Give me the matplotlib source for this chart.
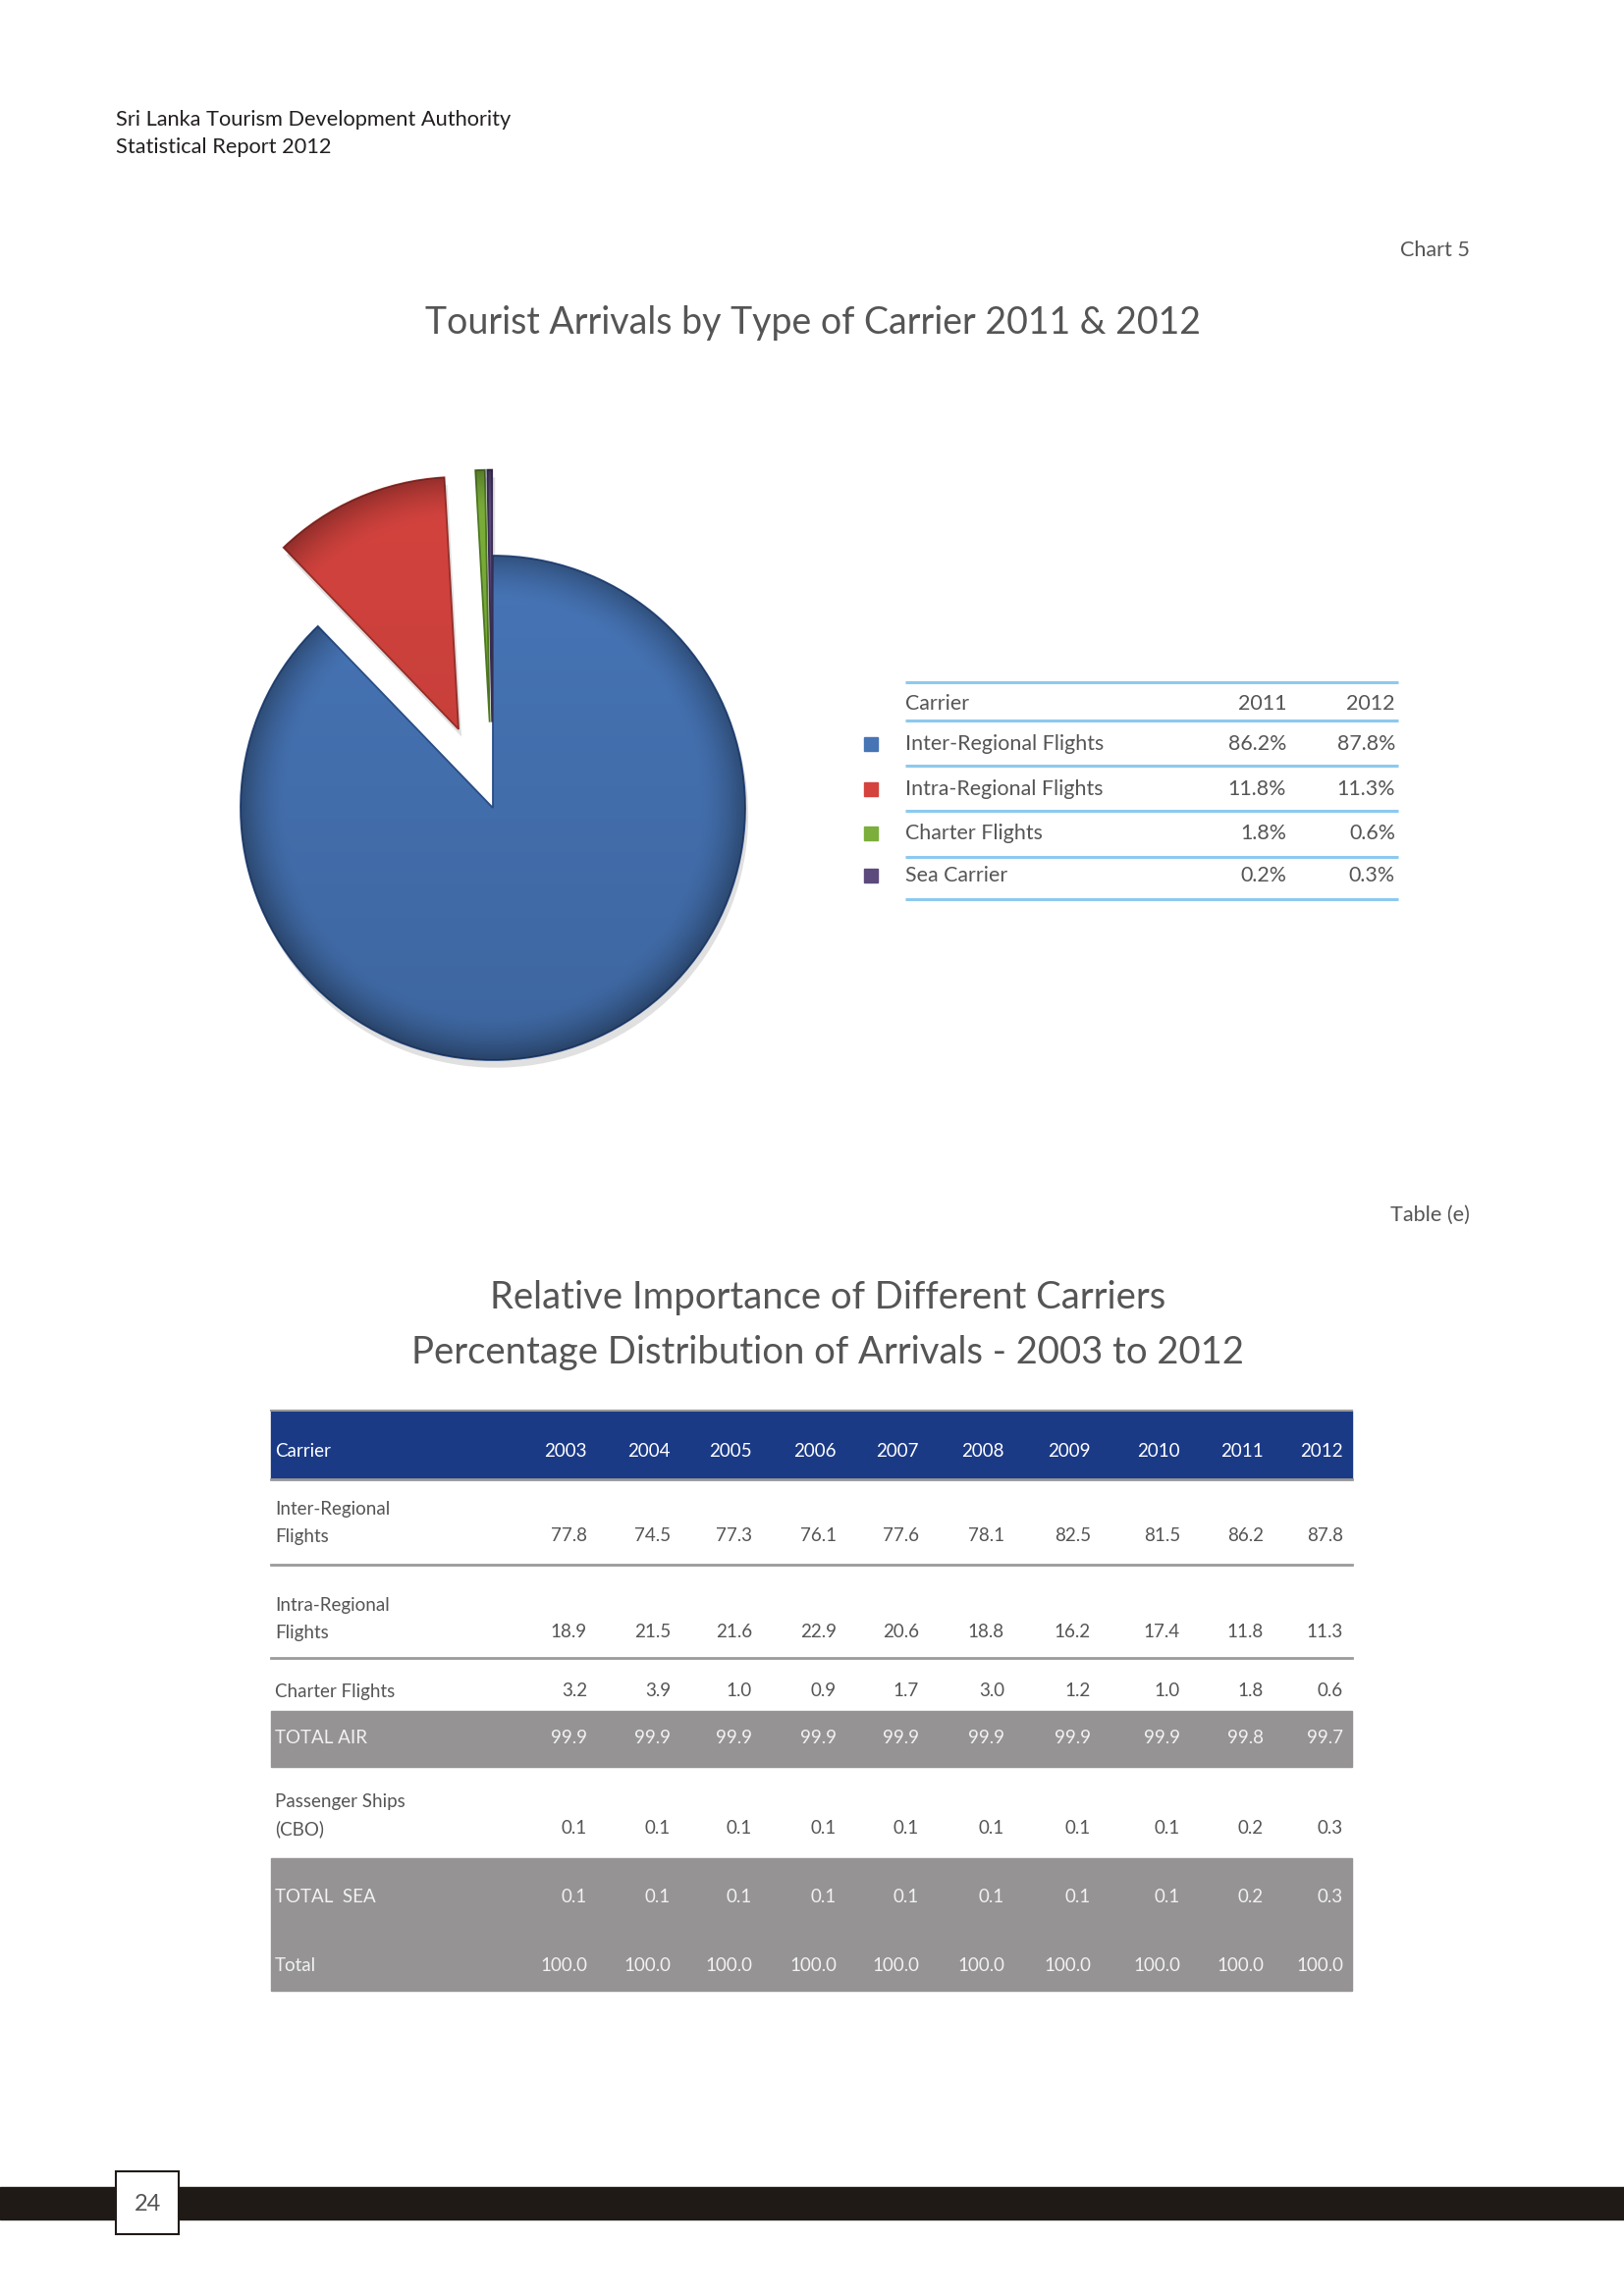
import numpy as np
import matplotlib
import matplotlib.pyplot as plt
from matplotlib.patches import Rectangle, Wedge

matplotlib.rcParams['font.family'] = ['Lato', 'DejaVu Sans']

# Chart 5 - carrier shares
carriers = ["Inter-Regional Flights", "Intra-Regional Flights", "Charter Flights", "Sea Carrier"]
share_2011 = [86.2, 11.8, 1.8, 0.2]
share_2012 = [87.8, 11.3, 0.6, 0.3]
pie_colors = ["#4674B5", "#D4433E", "#7BAE3A", "#5C4A7C"]
edge_colors = ["#2C4F88", "#96302B", "#4F7A22", "#3A2E55"]
explode = [0.0, 0.34, 0.34, 0.34]

# Table (e) - percentage distribution
years = [2003, 2004, 2005, 2006, 2007, 2008, 2009, 2010, 2011, 2012]
inter_regional = [77.8, 74.5, 77.3, 76.1, 77.6, 78.1, 82.5, 81.5, 86.2, 87.8]
intra_regional = [18.9, 21.5, 21.6, 22.9, 20.6, 18.8, 16.2, 17.4, 11.8, 11.3]
charter = [3.2, 3.9, 1.0, 0.9, 1.7, 3.0, 1.2, 1.0, 1.8, 0.6]
total_air = [99.9, 99.9, 99.9, 99.9, 99.9, 99.9, 99.9, 99.9, 99.8, 99.7]
passenger_ships = [0.1, 0.1, 0.1, 0.1, 0.1, 0.1, 0.1, 0.1, 0.2, 0.3]
total_sea = [0.1, 0.1, 0.1, 0.1, 0.1, 0.1, 0.1, 0.1, 0.2, 0.3]
total = [100.0, 100.0, 100.0, 100.0, 100.0, 100.0, 100.0, 100.0, 100.0, 100.0]

W, H = 1654, 2339
TXT = "#555555"
fig = plt.figure(figsize=(W / 100, H / 100), dpi=100)

# page layer in pixel units (y goes down)
page = fig.add_axes([0, 0, 1, 1])
page.set_xlim(0, W)
page.set_ylim(H, 0)
page.axis("off")

# header
page.text(118, 122, "Sri Lanka Tourism Development Authority", fontsize=15.7, color="#231F20", va="center")
page.text(118, 150, "Statistical Report 2012", fontsize=15.7, color="#231F20", va="center")

page.text(1497, 255, "Chart 5", fontsize=15.6, color=TXT, ha="right", va="center")
page.text(828, 329, "Tourist Arrivals by Type of Carrier 2011 & 2012", fontsize=27, color=TXT,
          ha="center", va="center")

# pie
r_px = 257
cx, cy = 502, 823
pie_ax = fig.add_axes([(cx - 1.5 * r_px) / W, 1 - (cy + 1.5 * r_px) / H, 3 * r_px / W, 3 * r_px / H])
wedges, _ = pie_ax.pie(share_2012, explode=explode, colors=pie_colors, startangle=90,
                       counterclock=False, wedgeprops=dict(linewidth=1.3))

# soft shadow + bevel-ish shading to mimic the 3D look of the original
gx, gy = np.meshgrid(np.linspace(-1.5, 1.5, 600), np.linspace(-1.5, 1.5, 600))
for w, ec in zip(wedges, edge_colors):
    w.set_edgecolor(ec)
    w.set_zorder(3)
    sh = Wedge((w.center[0] + 0.012, w.center[1] - 0.03), w.r, w.theta1, w.theta2,
               facecolor="#000000", alpha=0.12, lw=0, zorder=1)
    pie_ax.add_patch(sh)
    d = np.hypot(gx - w.center[0], gy - w.center[1])
    rim = np.clip((d - 0.82) / 0.18, 0, 1) ** 1.6 * 0.30
    vert = np.clip((w.center[1] - gy + 1) / 2, 0, 1) * 0.12
    shade = np.zeros(gx.shape + (4,))
    shade[..., 3] = np.clip(rim + vert, 0, 0.5)
    im = pie_ax.imshow(shade, extent=(-1.5, 1.5, -1.5, 1.5), origin="lower", zorder=4,
                       interpolation="bilinear")
    im.set_clip_path(w)
pie_ax.set_aspect("equal")
pie_ax.set_xlim(-1.5, 1.5)
pie_ax.set_ylim(-1.5, 1.5)
pie_ax.axis("off")

# legend table
leg_line = "#8DC9EF"
x0, x1 = 922, 1424
for y in [695, 734, 780, 826, 873, 916]:
    page.plot([x0, x1], [y, y], color=leg_line, lw=2.2, solid_capstyle="butt")
page.text(922, 717, "Carrier", fontsize=15.4, color=TXT, va="center")
page.text(1310, 717, "2011", fontsize=15.4, color=TXT, ha="right", va="center")
page.text(1421, 717, "2012", fontsize=15.4, color=TXT, ha="right", va="center")
row_y = [758, 804, 849, 892]
for i, name in enumerate(carriers):
    y = row_y[i]
    page.add_patch(Rectangle((880, y - 7), 14, 14, color=pie_colors[i]))
    page.text(922, y, name, fontsize=15.4, color=TXT, va="center")
    page.text(1310, y, f"{share_2011[i]:.1f}%", fontsize=15.4, color=TXT, ha="right", va="center")
    page.text(1421, y, f"{share_2012[i]:.1f}%", fontsize=15.4, color=TXT, ha="right", va="center")

# table (e)
page.text(1497, 1238, "Table (e)", fontsize=15.6, color=TXT, ha="right", va="center")
page.text(843, 1322, "Relative Importance of Different Carriers", fontsize=27.5, color=TXT,
          ha="center", va="center")
page.text(843, 1378, "Percentage Distribution of Arrivals - 2003 to 2012", fontsize=27.5, color=TXT,
          ha="center", va="center")

tl, tr = 276, 1377
col_right = [598, 683, 766, 852, 936, 1023, 1111, 1202, 1287, 1368]
navy = "#1B3A86"
band = "#959394"
rule = "#9A9A9A"
fs = 13.5

page.add_patch(Rectangle((tl, 1437), tr - tl, 70, color=navy))
page.plot([tl, tr], [1437, 1437], color=rule, lw=1.5)
page.plot([tl, tr], [1507, 1507], color=rule, lw=2)
page.text(tl + 4, 1479, "Carrier", fontsize=fs, color="white", va="center")
for x, yr in zip(col_right, years):
    page.text(x, 1479, str(yr), fontsize=fs, color="white", ha="right", va="center")

page.add_patch(Rectangle((tl, 1743), tr - tl, 57, color=band))
page.add_patch(Rectangle((tl, 1893), tr - tl, 135, color=band))
for y in [1594, 1689]:
    page.plot([tl, tr], [y, y], color=rule, lw=2)

# (label lines, label y positions, values, value y, text colour)
table_rows = [
    (["Inter-Regional", "Flights"], [1537, 1565], inter_regional, 1565, TXT),
    (["Intra-Regional", "Flights"], [1635, 1663], intra_regional, 1663, TXT),
    (["Charter Flights"], [1723], charter, 1723, TXT),
    (["TOTAL AIR"], [1770], total_air, 1770, "#F2F2F2"),
    (["Passenger Ships", "(CBO)"], [1836, 1863], passenger_ships, 1863, TXT),
    (["TOTAL  SEA"], [1933], total_sea, 1933, "#F2F2F2"),
    (["Total"], [2003], total, 2003, "#F2F2F2"),
]
for labels, ly, vals, vy, c in table_rows:
    for lab, y in zip(labels, ly):
        page.text(tl + 4, y, lab, fontsize=fs, color=c, va="center")
    for x, v in zip(col_right, vals):
        page.text(x, vy, f"{v:.1f}", fontsize=fs, color=c, ha="right", va="center")

# footer bar with page number
page.add_patch(Rectangle((0, 2228), W, 33, color="#201A17"))
page.add_patch(Rectangle((118, 2212), 64, 64, facecolor="white", edgecolor="#201A17", lw=1.5))
page.text(150, 2245, "24", fontsize=17, color=TXT, ha="center", va="center")

fig.savefig("out.png", dpi=100)
